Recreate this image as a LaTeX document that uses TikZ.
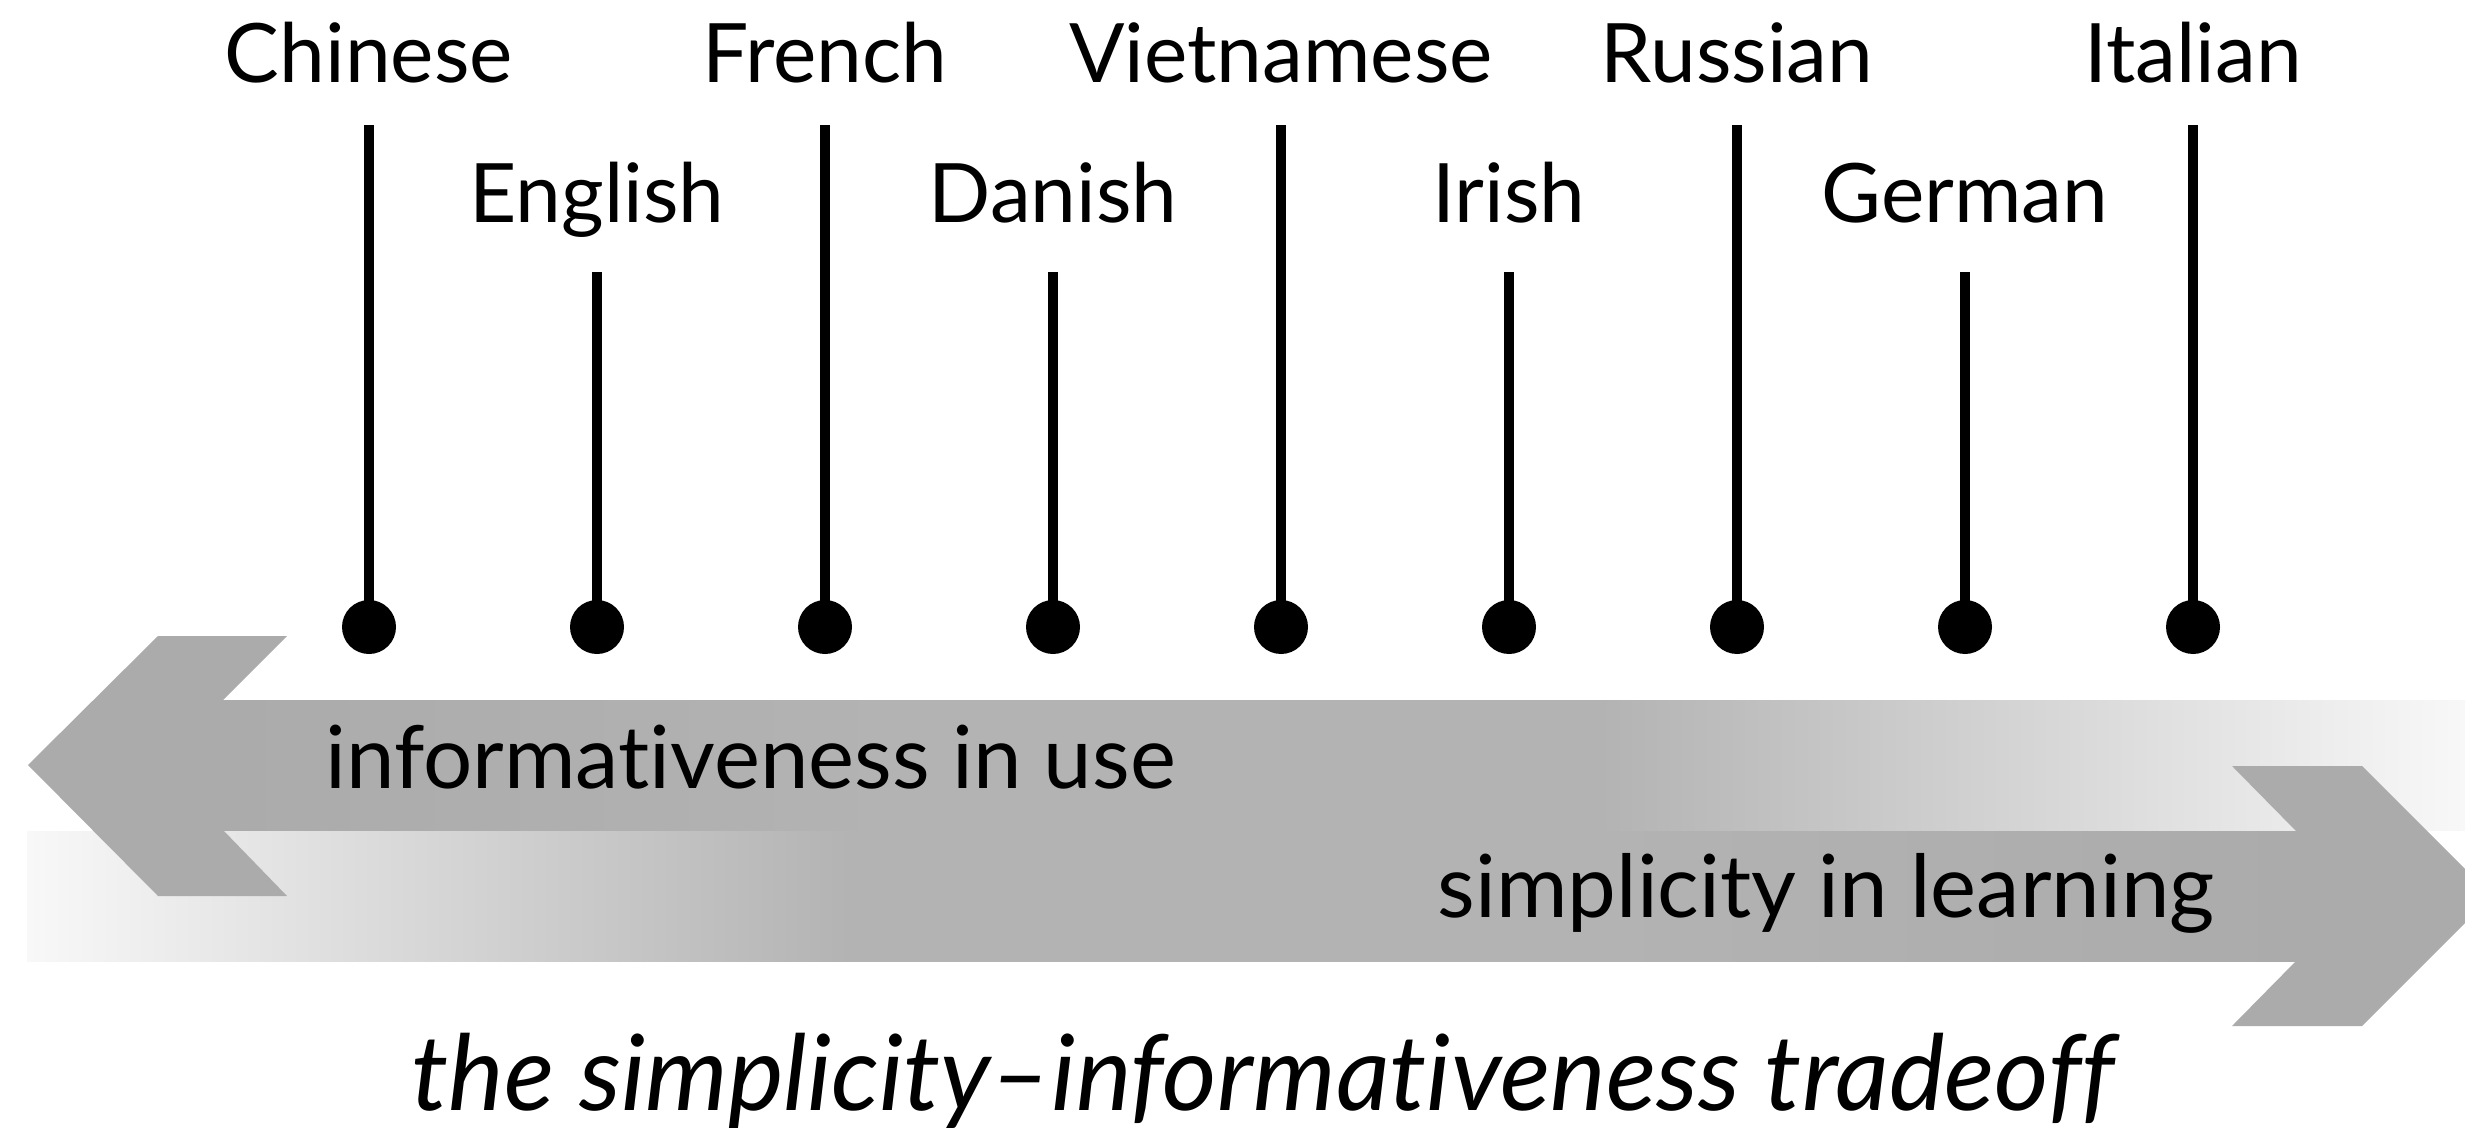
\documentclass[tikz,border=0pt]{standalone}
\usepackage{fontspec}
\setmainfont{Lato}[Ligatures={NoCommon}]
\definecolor{headgray}{HTML}{ABABAB}
\definecolor{bandgray}{HTML}{B3B3B3}
\definecolor{fadegray}{HTML}{F8F8F8}

% band fills: the path's bounding box spans 25bp..75bp of each shading
\pgfdeclarehorizontalshading{upperband}{100bp}{%
  color(0bp)=(headgray); color(25bp)=(headgray);
  color(40.09bp)=(bandgray); color(55.70bp)=(bandgray);
  color(75bp)=(fadegray); color(100bp)=(fadegray)}
\pgfdeclarehorizontalshading{lowerband}{100bp}{%
  color(0bp)=(fadegray); color(25bp)=(fadegray);
  color(43.10bp)=(bandgray); color(59.60bp)=(bandgray);
  color(75bp)=(headgray); color(100bp)=(headgray)}

\begin{document}
\begin{tikzpicture}[x=1pt,y=-1pt,
  lang/.style={inner sep=0pt, anchor=base, font=\fontsize{82}{90}\selectfont},
  dotmark/.style={circle, fill=black, inner sep=0pt, minimum size=54pt},
  stemline/.style={line width=10pt},
  bandtext/.style={inner sep=0pt, font=\fontsize{87}{100}\selectfont},
  titletext/.style={inner sep=0pt, anchor=base, font=\fontsize{105}{115}\selectfont\itshape},
]
\clip (0,0) rectangle (2465,1139);
\fill[white] (0,0) rectangle (2465,1139);

% upper band: informativeness, running to the left, fading out on the right
\shade[shading=upperband] (223,700) rectangle (2466,830);
% lower band: simplicity, fading in from the left, running to the right
\shade[shading=lowerband] (27,831) rectangle (2300,961);

% arrow heads
\fill[headgray] (245,700) -- (223,700) -- (287,636) -- (158,636) -- (28,765)
  -- (158,896) -- (287,896) -- (223,830) -- (245,830) -- cycle;
\fill[headgray] (2280,831) -- (2296,831) -- (2232,766) -- (2362,766) -- (2492,896)
  -- (2362,1026) -- (2232,1026) -- (2296,961) -- (2280,961) -- cycle;

% languages: dots, stems and labels
\foreach \i/\name/\labely/\topy in {
  1/Chinese/83/125, 2/English/223/272, 3/French/83/125,
  4/Danish/223/272, 5/Vietnamese/83/125, 6/Irish/223/272,
  7/Russian/83/125, 8/German/223/272, 9/Italian/83/125}{
  \pgfmathsetmacro{\xpos}{369+228*(\i-1)}
  \node[dotmark] (dot\i) at (\xpos,627) {};
  \coordinate (top\i) at (\xpos,\topy);
  \draw[stemline] (dot\i.center) -- (top\i);
  \node[lang] (lab\i) at (\xpos,\labely) {\name};
}

\node[bandtext, anchor=base west] (usetext) at (325,788) {informativeness in use};
\node[bandtext, anchor=base east] (learntext) at (2215,917) {simplicity in learning};

\node[titletext] (title) at (1263,1110) {the simplicity–informativeness tradeoff};
\end{tikzpicture}
\end{document}
